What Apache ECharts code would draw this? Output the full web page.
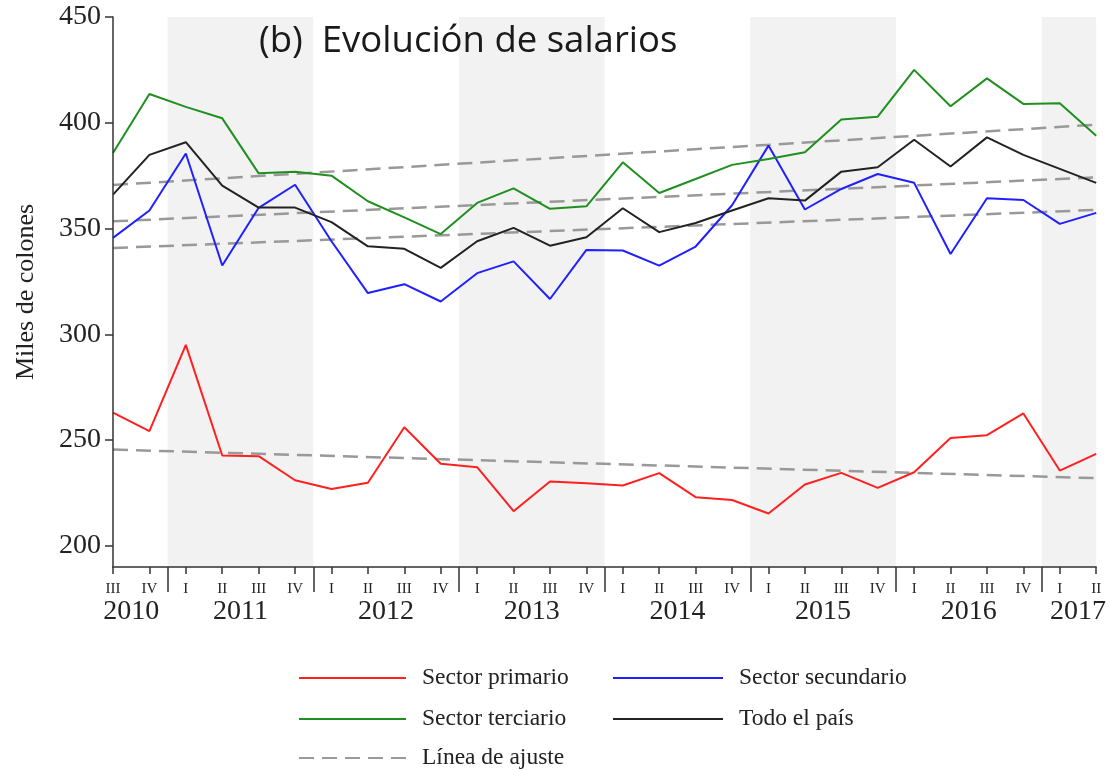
<!DOCTYPE html>
<html>
<head>
<meta charset="utf-8">
<script src="https://cdn.jsdelivr.net/npm/echarts@6/dist/echarts.min.js"></script>
<style>
html, body { margin: 0; padding: 0; background: #fff; }
#chart { width: 1109px; height: 770px; }
</style>
</head>
<body>
<div id="chart"></div>
<script>
// trimestres, de 2010 III a 2017 II
const quarters = ['III', 'IV',
    'I', 'II', 'III', 'IV',
    'I', 'II', 'III', 'IV',
    'I', 'II', 'III', 'IV',
    'I', 'II', 'III', 'IV',
    'I', 'II', 'III', 'IV',
    'I', 'II', 'III', 'IV',
    'I', 'II'];
const years = ['2010', '2011', '2012', '2013', '2014', '2015', '2016', '2017'];
const shadedYears = ['2011', '2013', '2015', '2017'];
const yTicks = [200, 250, 300, 350, 400, 450];

// miles de colones
const primario = [263.0, 254.2, 295.0, 242.7, 242.4, 231.0, 226.9, 229.8, 256.1, 238.8, 237.2, 216.4, 230.4, 229.6,
    228.5, 234.4, 223.0, 221.7, 215.3, 229.0, 234.5, 227.4, 234.8, 251.0, 252.3, 262.6, 235.6, 243.5];
const secundario = [345.6, 358.5, 385.5, 332.5, 359.8, 370.7, 344.0, 319.5, 323.7, 315.5, 328.9, 334.5, 316.7, 339.9,
    339.6, 332.5, 341.5, 361.0, 389.2, 359.0, 368.7, 375.8, 371.6, 338.0, 364.3, 363.5, 352.2, 357.4];
const terciario = [385.7, 413.6, 407.5, 402.1, 376.1, 376.9, 375.0, 362.9, 355.3, 347.4, 362.1, 369.0, 359.3, 360.5,
    381.3, 366.8, 373.4, 380.1, 382.9, 386.1, 401.5, 402.9, 425.0, 407.8, 421.0, 408.9, 409.2, 393.9];
const pais = [366.0, 384.8, 390.8, 370.3, 359.9, 359.9, 353.0, 341.6, 340.4, 331.4, 344.0, 350.3, 341.9, 345.9,
    359.6, 348.3, 352.6, 358.5, 364.3, 363.2, 376.9, 379.0, 392.0, 379.3, 393.1, 384.8, 378.2, 371.6];

// líneas de ajuste: valor al inicio y al final (primario, secundario, terciario, país)
const trendStart = [245.5, 340.8, 370.6, 353.4];
const trendEnd = [232.0, 358.8, 399.1, 374.2];

const serif = 'Liberation Serif';
const last = quarters.length - 1;
const idx = quarters.map((q, i) => i);

// año de cada trimestre
let yearOf = [];
let y = 0;
quarters.forEach((q, i) => {
    if (q === 'I' && i > 0) y++;
    yearOf.push(years[y]);
});
const yearCenters = years.map(yr => {
    const ii = idx.filter(i => yearOf[i] === yr);
    return (ii[0] + ii[ii.length - 1]) / 2;
});
const boundaries = idx.filter(i => i > 0 && quarters[i] === 'I').map(i => i - 0.5);
const bands = shadedYears.map(yr => {
    const ii = idx.filter(i => yearOf[i] === yr);
    const a = ii[0] > 0 ? ii[0] - 0.5 : 0;
    const b = ii[ii.length - 1] < last ? ii[ii.length - 1] + 0.5 : last;
    return [{ xAxis: a }, { xAxis: b }];
});

const toXY = arr => arr.map((v, i) => [i, v]);

const lineSeries = (name, data, color) => ({
    name, type: 'line', data: toXY(data), symbol: 'none', z: 3,
    lineStyle: { color, width: 2 }, itemStyle: { color }
});

const trendSeries = k => ({
    name: 'Línea de ajuste', type: 'line', symbol: 'none', z: 2,
    data: [[0, trendStart[k]], [last, trendEnd[k]]],
    lineStyle: { color: '#999', width: 2.5, type: [15, 8] }, itemStyle: { color: '#999' }
});

// leyenda: solo la línea, sin marcador
const legendBox = (names, left, top, w) => ({
    data: names, orient: 'vertical', left, top, padding: 5,
    itemWidth: w, itemHeight: 14, itemGap: 17,
    itemStyle: { opacity: 0 },
    textStyle: { fontFamily: serif, fontSize: 23.5, color: '#222', padding: [0, 0, 0, 11], lineHeight: 23 }
});

const chart = echarts.init(document.getElementById('chart'));
chart.setOption({
    animation: false,
    backgroundColor: '#fff',
    title: {
        text: '(b)  Evolución de salarios',
        left: 254, top: 18,
        textStyle: { fontFamily: 'Open Sans', fontSize: 36.5, fontWeight: 'normal', color: '#1a1a1a' }
    },
    grid: { left: 113, right: 9, top: 17, bottom: 203 },
    legend: [
        legendBox(['Sector primario', 'Sector terciario'], 293, 661, 107),
        legendBox(['Sector secundario', 'Todo el país'], 607, 661, 110),
        legendBox(['Línea de ajuste'], 293, 741, 107)
    ],
    xAxis: [{
        type: 'value', min: 0, max: last, position: 'bottom', z: 5,
        axisLine: { lineStyle: { color: '#333', width: 1.5 } },
        axisTick: { customValues: idx, length: 7, lineStyle: { color: '#333', width: 1.5 } },
        axisLabel: {
            customValues: idx, formatter: v => quarters[Math.round(v)],
            fontFamily: serif, fontSize: 15, color: '#222', margin: 15
        },
        splitLine: { show: false }
    }, {
        type: 'value', min: 0, max: last, position: 'bottom', z: 5,
        axisLine: { show: false },
        axisTick: { customValues: boundaries, length: 25, lineStyle: { color: '#333', width: 1.5 } },
        axisLabel: {
            customValues: yearCenters, formatter: v => years[yearCenters.indexOf(v)],
            fontFamily: serif, fontSize: 28, color: '#222', margin: 31
        },
        splitLine: { show: false }
    }],
    yAxis: {
        type: 'value', min: 190, max: 450, z: 5,
        name: 'Miles de colones', nameLocation: 'middle', nameGap: 74,
        nameTextStyle: { fontFamily: serif, fontSize: 26, color: '#222' },
        axisLine: { show: true, lineStyle: { color: '#333', width: 1.5 } },
        axisTick: { show: true, customValues: yTicks, length: 8, lineStyle: { color: '#333', width: 1.5 } },
        axisLabel: { customValues: yTicks, fontFamily: serif, fontSize: 28, color: '#222', margin: 12 },
        splitLine: { show: false }
    },
    series: [
        {
            name: 'sombra', type: 'line', data: [], z: 1,
            markArea: { silent: true, itemStyle: { color: '#f2f2f2' }, data: bands }
        },
        trendSeries(0), trendSeries(1), trendSeries(2), trendSeries(3),
        lineSeries('Sector primario', primario, '#ff2020'),
        lineSeries('Sector secundario', secundario, '#2020ff'),
        lineSeries('Sector terciario', terciario, '#1f8f1f'),
        lineSeries('Todo el país', pais, '#222222')
    ]
});
</script>
</body>
</html>
